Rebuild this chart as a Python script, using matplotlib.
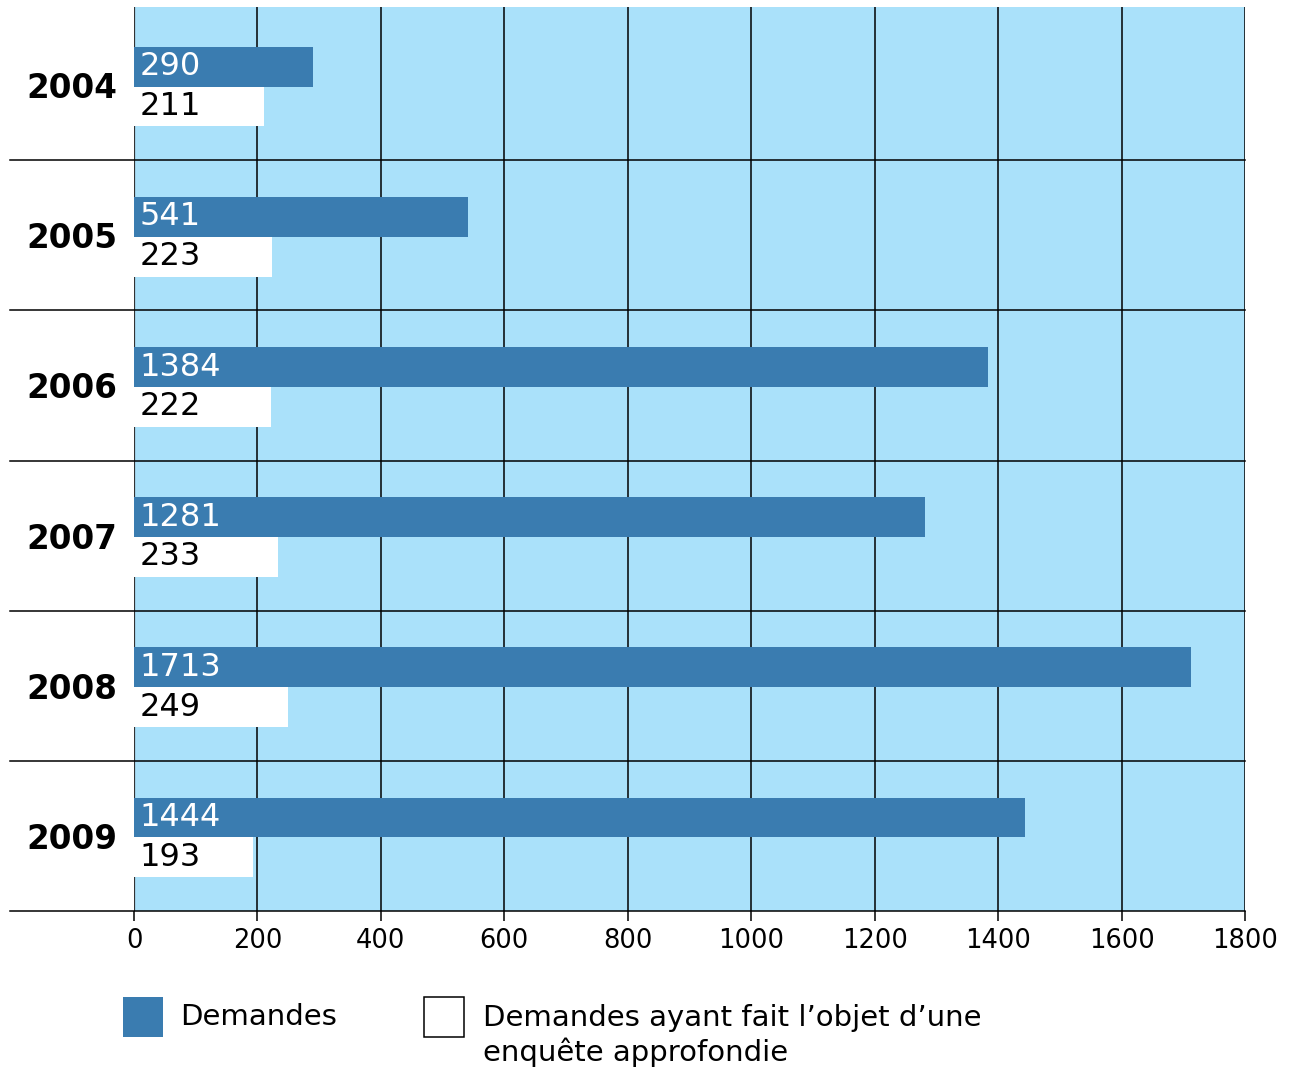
import matplotlib
matplotlib.use("Agg")
import matplotlib.pyplot as plt
from matplotlib.patches import Rectangle

years = ["2004", "2005", "2006", "2007", "2008", "2009"]
demandes = [290, 541, 1384, 1281, 1713, 1444]
enquetes = [211, 223, 222, 233, 249, 193]
x_ticks = [0, 200, 400, 600, 800, 1000, 1200, 1400, 1600, 1800]

BLUE = "#3a7cb0"
BG = "#aae1fa"

plt.rcParams["font.family"] = ["DejaVu Sans"]

fig = plt.figure(figsize=(12.93, 10.70), dpi=100)
W, H = 1293, 1070
left, right, top, bottom = 134, 1245, 7, 911
ax = fig.add_axes([left / W, 1 - bottom / H, (right - left) / W, (bottom - top) / H])
ax.set_facecolor(BG)
for s in ax.spines.values():
    s.set_visible(False)

ax.set_xlim(0, 1800)
ax.set_ylim(len(years) - 0.5, -0.52)

h = 0.265
off = 0.01
for i, (d, e) in enumerate(zip(demandes, enquetes)):
    ax.barh(i + off - h / 2, d, height=h, color=BLUE, zorder=3)
    ax.barh(i + off + h / 2, e, height=h, color="white", zorder=3)
    ax.annotate(str(d), (0, i + off - h / 2), xytext=(4, 0), textcoords="offset points",
                va="center", ha="left", fontsize=23, color="white", zorder=4)
    ax.annotate(str(e), (0, i + off + h / 2), xytext=(4, 0), textcoords="offset points",
                va="center", ha="left", fontsize=23, color="black", zorder=4)

# vertical grid lines
for t in x_ticks:
    lw, col = (1.6, "#333333") if t == 0 else (1.1, "black")
    ax.axvline(t, color=col, lw=lw, zorder=2)

# horizontal separators, extended into the label area
ext = -(left - 10) / (right - left)
for k in range(len(years)):
    ax.axhline(k + 0.5, xmin=ext, xmax=1, color="black", lw=1.1, clip_on=False, zorder=2)

ax.set_yticks(range(len(years)))
ax.set_yticklabels(years, fontsize=23.5, fontweight="bold")
ax.tick_params(axis="y", length=0, pad=12)

ax.set_xticks(x_ticks)
ax.set_xticklabels([str(t) for t in x_ticks], fontsize=18.5)
ax.tick_params(axis="x", length=7, width=1.1, color="black", pad=5)

# legend
fig.patches.append(Rectangle((123 / W, 1 - 1037 / H), 40 / W, 40 / H, transform=fig.transFigure,
                             facecolor=BLUE, edgecolor="none"))
fig.patches.append(Rectangle((424 / W, 1 - 1037 / H), 40 / W, 40 / H, transform=fig.transFigure,
                             facecolor="white", edgecolor="black", lw=1.1))
fig.text(180 / W, 1 - 1017 / H, "Demandes", fontsize=21, va="center", ha="left")
fig.text(483 / W, 1 - 1004 / H, "Demandes ayant fait l\u2019objet d\u2019une\nenqu\u00eate approfondie",
         fontsize=21, va="top", ha="left", linespacing=1.25)

fig.savefig("out.png", dpi=100)
